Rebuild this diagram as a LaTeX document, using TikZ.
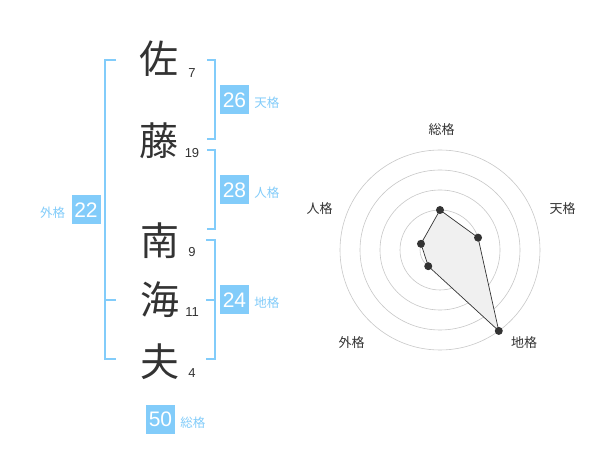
\documentclass[tikz,border=0pt]{standalone}
\usepackage{fontspec}
\setmainfont{Liberation Sans}
\newfontfamily\cjk{Noto Sans CJK JP}
\usetikzlibrary{calc}
\definecolor{kblue}{RGB}{130,204,250}
\definecolor{ktext}{RGB}{51,51,51}
\definecolor{kring}{RGB}{200,200,200}
\definecolor{kfill}{RGB}{240,240,240}
\begin{document}
\begin{tikzpicture}[x=1pt,y=-1pt,
  kanji/.style={font=\cjk\fontsize{39}{39}\selectfont, text=ktext, inner sep=0pt},
  strokes/.style={font=\fontsize{13}{13}\selectfont, text=ktext, inner sep=0pt},
  valbox/.style={fill=kblue, text=white, minimum width=29pt, minimum height=29pt, inner sep=0pt, font=\fontsize{21}{21}\selectfont},
  kaku/.style={font=\cjk\fontsize{12.5}{12.5}\selectfont, text=kblue, inner sep=0pt},
  bracket/.style={draw=kblue, line width=2pt},
  ring/.style={draw=kring, line width=0.6pt},
  axlabel/.style={font=\cjk\fontsize{13}{13}\selectfont, text=ktext, inner sep=0pt},
  datadot/.style={circle, fill=ktext, inner sep=0pt, minimum size=8pt},
  polyline/.style={draw=ktext, fill=kfill, line width=0.7pt}]
\useasboundingbox (0,0) rectangle (600,470);
\fill[white] (0,0) rectangle (600,470);

% name characters
\node[kanji] (k1) at (159,59) {佐};
\node[kanji] (k2) at (159,141) {藤};
\node[kanji] (k3) at (160,241) {南};
\node[kanji] (k4) at (160,300) {海};
\node[kanji] (k5) at (160,362) {夫};

% stroke counts
\node[strokes] (n1) at (192,73) {7};
\node[strokes] (n2) at (192,153) {19};
\node[strokes] (n3) at (192,252) {9};
\node[strokes] (n4) at (192,312) {11};
\node[strokes] (n5) at (192,373) {4};

% brackets
\draw[bracket] (116,60) -| (104.5,359) -- (116,359);
\draw[bracket] (104.5,300) -- (116,300);
\draw[bracket] (207,60) -| (214.5,139) -- (207,139);
\draw[bracket] (207,150) -| (214.5,229) -- (207,229);
\draw[bracket] (206,240) -| (214.5,359) -- (206,359);
\draw[bracket] (206,300) -- (214.5,300);

% value boxes and labels
\node[valbox] (b1) at (234.5,100) {26};
\node[kaku, anchor=west] (l1) at ($(b1.east)+(5,3)$) {天格};
\node[valbox] (b2) at (234.5,190) {28};
\node[kaku, anchor=west] (l2) at ($(b2.east)+(5,3)$) {人格};
\node[valbox] (b3) at (234.5,300) {24};
\node[kaku, anchor=west] (l3) at ($(b3.east)+(5,3)$) {地格};
\node[valbox] (b4) at (86,210) {22};
\node[kaku, anchor=east] (l4) at ($(b4.west)+(-6,3)$) {外格};
\node[valbox] (b5) at (160.5,419) {50};
\node[kaku, anchor=west] (l5) at ($(b5.east)+(5,4)$) {総格};

% radar chart
\coordinate (c) at (440,250);
\foreach \r in {20,40,60,80,100} \draw[ring] (c) circle[radius=\r];
\fill[kring] (c) circle[radius=3.5];
\coordinate (p1) at ($(c)+(-90:40)$);
\coordinate (p2) at ($(c)+(-18:40)$);
\coordinate (p3) at ($(c)+(54:100)$);
\coordinate (p4) at ($(c)+(126:20)$);
\coordinate (p5) at ($(c)+(198:20)$);
\draw[polyline] (p1) -- (p2) -- (p3) -- (p4) -- (p5) -- cycle;
\foreach \i in {1,...,5} \node[datadot] (d\i) at (p\i) {};

\node[axlabel] (a1) at (441.5,130) {総格};
\node[axlabel] (a2) at (562.5,208.5) {天格};
\node[axlabel] (a3) at (524,342.5) {地格};
\node[axlabel] (a4) at (351.5,342.5) {外格};
\node[axlabel] (a5) at (319.5,208.5) {人格};
\end{tikzpicture}
\end{document}
